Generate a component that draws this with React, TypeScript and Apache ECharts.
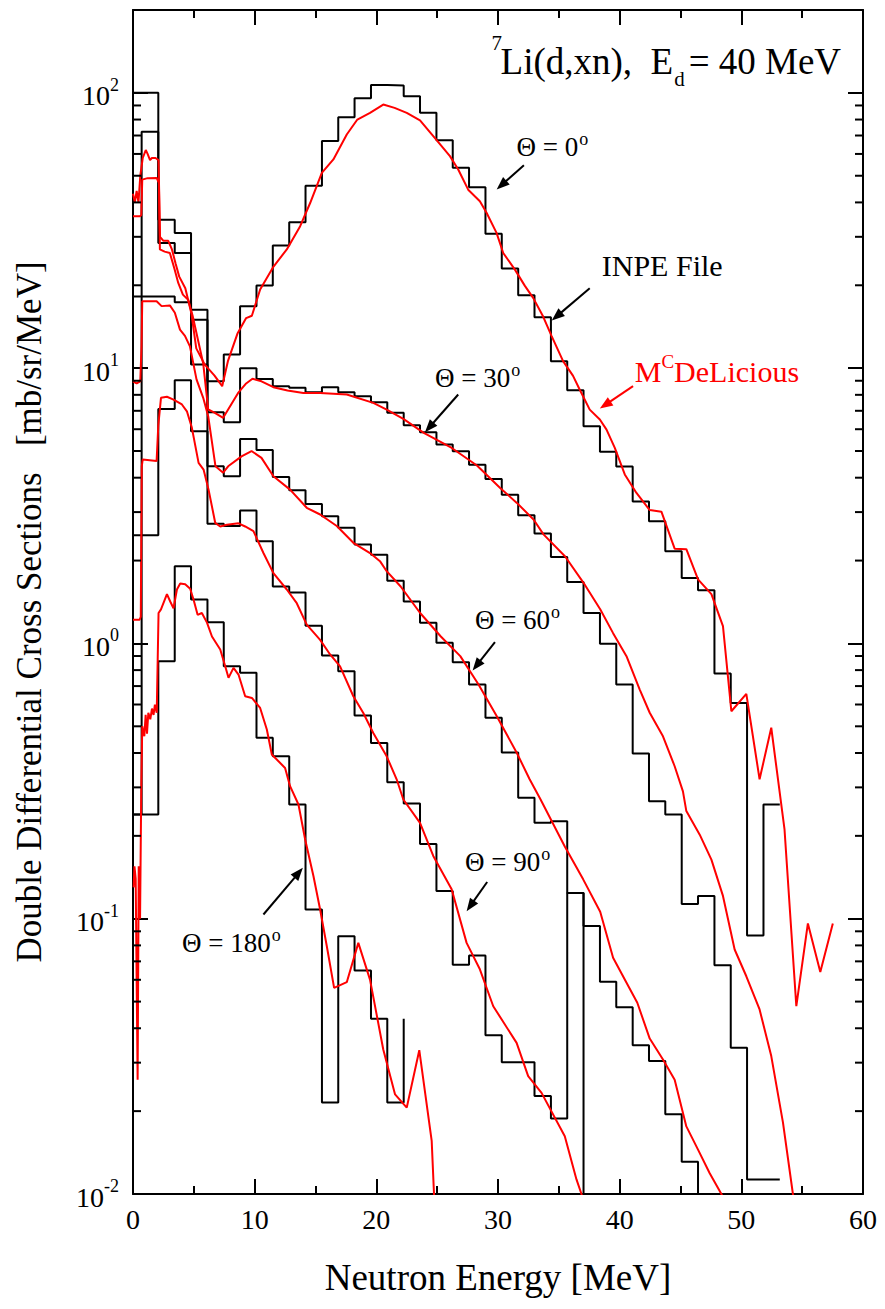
import React, { useEffect, useRef } from "react";
import * as echarts from "echarts";

const FONT = '"Liberation Serif", "Times New Roman", Times, serif';
const FLOOR = 1e-4; // stands for "empty bin" (below the axis, clipped)

// ---------------- axes ----------------
const X_MIN = 0;
const X_MAX = 60;
const X_STEP = 10;
const Y_MIN = 0.01;
const Y_MAX = 200;
const Y_MINOR = [
  0.02, 0.03, 0.04, 0.05, 0.06, 0.07, 0.08, 0.09,
  0.2, 0.3, 0.4, 0.5, 0.6, 0.7, 0.8, 0.9,
  2, 3, 4, 5, 6, 7, 8, 9,
  20, 30, 40, 50, 60, 70, 80, 90,
];
const X_TITLE = "Neutron Energy [MeV]";
const Y_TITLE = "Double Differential Cross Sections\u00a0\u00a0\u00a0[mb/sr/MeV]";

// ---------------- INPE file: histogram bin edges [MeV] ----------------
const EDGES = [
  0, 0.71, 2.08, 3.43, 4.77, 6.12, 7.46, 8.8, 10.15, 11.49, 12.84, 14.18, 15.53,
  16.87, 18.21, 19.56, 20.9, 22.25, 23.59, 24.94, 26.28, 27.62, 28.97, 30.31,
  31.66, 33.0, 34.35, 35.69, 37.03, 38.38, 39.72, 41.07, 42.41, 43.75, 45.1,
  46.44, 47.79, 49.13, 50.47, 51.82, 53.16,
];

// bin values (index = bin number, 0 = empty bin)
const INPE_0 = [
  100, 100, 34.6, 31.0, 16.3, 8.96, 11.2, 16.8, 19.95, 27.9, 33.9, 46.0, 66.9,
  81.6, 95.6, 106.9, 106.3, 97.2, 84.6, 67.3, 53.4, 45.4, 30.8, 23.0, 18.4, 15.3,
  10.6, 8.31, 6.15, 4.97, 4.39, 3.28, 2.78, 2.16, 1.73, 1.56, 0.778, 0.608,
  0.0869, 0.26,
];
const INPE_30 = [
  18.2, 72.2, 28.5, 26.2, 15.0, 6.92, 6.36, 10.0, 9.14, 8.6, 8.48, 8.18, 8.52,
  8.18, 7.9, 7.52, 6.88, 6.2, 5.85, 5.28, 4.99, 4.46, 3.96, 3.47, 2.92, 2.51,
  2.06, 1.67, 1.29, 0.997, 0.709, 0.398, 0.267, 0.239, 0.113, 0.121, 0.0678,
  0.034, 0.0113, 0.0113,
];
const INPE_60 = [
  2.47, 18.2, 18.2, 17.35, 10.3, 4.4, 4.05, 5.53, 5.04, 4.02, 3.6, 3.21, 2.9,
  2.63, 2.29, 2.1, 1.69, 1.42, 1.19, 1.005, 0.855, 0.709, 0.537, 0.402, 0.275,
  0.223, 0.226, 0.124, 0.094, 0.059, 0.0477, 0.0347, 0.0304, 0.0195, 0.0131, 0,
];
const INPE_90 = [
  0.239, 2.47, 7.11, 9.04, 5.9, 2.72, 2.67, 3.04, 2.35, 1.61, 1.53, 1.16, 0.904,
  0.793, 0.547, 0.435, 0.313, 0.262, 0.187, 0.126, 0.068, 0.0735, 0.0377,
  0.0301, 0.0301, 0.0227, 0.0188, 0.124, 0,
];
const INPE_180 = [
  0.239, 0.239, 0.862, 1.907, 1.444, 1.195, 0.827, 0.782, 0.454, 0.389, 0.26,
  0.108, 0.0215, 0.0864, 0.0649, 0.0433, 0.0215,
];
const INPE_180_TAIL = 0.0433;

// ---------------- McDeLicious: [E (MeV), value] ----------------
const MCD_0: [number, number][] = [
  [0, 43], [0.15, 40], [0.3, 44], [0.45, 40], [0.6, 50], [0.8, 58], [1.05, 62],
  [1.2, 60], [1.4, 57], [1.55, 58], [1.85, 58], [2.1, 57], [2.22, 30], [2.5, 29],
  [2.9, 29], [3.2, 27], [3.5, 24], [3.8, 21.5], [4.3, 19.5], [4.8, 15.8],
  [5.2, 11.8], [5.9, 10.3], [6.7, 9.4], [7.33, 8.6], [7.8, 10.6], [8.6, 13.4],
  [9.3, 15.2], [9.77, 15.5], [10.45, 19.3], [11.55, 23.4], [12.64, 27.0],
  [13.74, 32.8], [14.56, 39.8], [15.52, 51.2], [16.47, 57.3], [17.57, 70.6],
  [18.44, 80.0], [19.48, 84.6], [20.57, 90.7], [21.5, 88.2], [22.5, 84.6],
  [23.59, 79.5], [24.68, 69.6], [26.05, 58.9], [26.73, 52.7], [27.55, 44.5],
  [28.51, 40.4], [29.06, 36.7], [29.88, 31.0], [30.43, 26.2], [31.39, 22.8],
  [32.21, 19.9], [32.89, 18.0], [33.71, 15.4], [34.4, 13.1], [35.35, 10.6],
  [36.17, 9.37], [36.72, 8.35], [37.54, 7.07], [38.37, 6.51], [38.92, 5.98],
  [39.6, 5.13], [40.42, 4.11], [41.38, 3.52], [42.47, 3.05], [43.43, 3.01],
  [44.52, 2.21], [45.48, 2.2], [46.44, 1.71], [47.54, 1.51], [48.49, 1.155],
  [49.18, 0.567], [50.41, 0.656], [51.5, 0.321], [52.46, 0.494], [53.55, 0.211],
  [54.52, 0.0481], [55.47, 0.0961], [56.49, 0.064], [57.52, 0.0961],
];
const MCD_30: [number, number][] = [
  [0, 35.6], [0.57, 35.6], [0.68, 36], [0.76, 48.4], [1.2, 49], [1.94, 49.1],
  [2.13, 47.1], [2.21, 27.0], [2.6, 26.5], [3.03, 26.2], [3.4, 23], [3.72, 20.4],
  [4.1, 18.5], [4.54, 17.7], [4.9, 15.5], [5.22, 13.4], [5.77, 10.4], [6.18, 7.08],
  [6.73, 6.88], [7.41, 6.6], [7.82, 7.08], [8.64, 8.13], [9.3, 8.8], [9.82, 9.15],
  [10.56, 8.96], [11.54, 8.53], [12.7, 8.3], [14.0, 8.13], [15.38, 8.13],
  [17.57, 8.02], [19.75, 7.48], [20.85, 7.07], [22.22, 6.54], [23.9, 5.82],
  [26.2, 5.13], [28.27, 4.43], [30.18, 3.67], [31.55, 3.24], [32.92, 2.82],
  [33.74, 2.49], [35.52, 2.07], [37.03, 1.66], [38.4, 1.33], [39.46, 1.09],
  [40.56, 0.899], [41.65, 0.68], [42.47, 0.56], [43.56, 0.46], [44.52, 0.358],
  [45.2, 0.29], [45.48, 0.246], [46.58, 0.202], [47.54, 0.164], [48.49, 0.121],
  [49.45, 0.0773], [50.41, 0.0618], [51.5, 0.0468], [52.46, 0.0317],
  [53.42, 0.0182], [54.24, 0.01], [54.6, 0.0085],
];
const MCD_60: [number, number][] = [
  [0, 8.96], [0.3, 8.8], [0.6, 8.96], [0.7, 12], [0.76, 17.5], [1.94, 17.5],
  [2.35, 16.8], [3.03, 16.9], [3.44, 15.9], [3.86, 13.8], [4.27, 13.1], [4.68, 12.0],
  [5.22, 9.1], [5.77, 7.8], [6.18, 6.69], [6.78, 4.4], [7.41, 4.17], [7.82, 4.4],
  [8.92, 4.78], [9.74, 5.0], [10.56, 4.72], [11.54, 4.05], [12.91, 3.62],
  [14.28, 3.11], [15.38, 2.94], [16.75, 2.67], [18.11, 2.32], [19.48, 2.13],
  [20.3, 1.99], [20.85, 1.83], [22.0, 1.61], [23.6, 1.29], [25.3, 1.06],
  [26.9, 0.899], [28.4, 0.709], [29.9, 0.544], [31.55, 0.4], [32.6, 0.321],
  [33.5, 0.271], [35.49, 0.183], [37.0, 0.139], [38.4, 0.106], [39.46, 0.0721],
  [40.42, 0.0601], [41.45, 0.0495], [42.47, 0.0367], [43.56, 0.0308],
  [44.52, 0.026], [45.48, 0.0176], [46.44, 0.0145], [47.4, 0.0119], [48.36, 0.01],
  [48.6, 0.0095],
];
const MCD_90: [number, number][] = [
  [0, 1.22], [0.55, 1.22], [0.64, 1.25], [0.72, 4.4], [0.8, 4.66], [1.94, 4.6],
  [2.08, 6.2], [2.3, 7.8], [2.79, 7.87], [3.33, 7.69], [4.02, 7.38], [4.43, 6.97],
  [4.84, 6.07], [5.39, 4.53], [5.8, 4.28], [6.21, 3.62], [6.76, 2.74], [7.17, 2.66],
  [7.72, 2.7], [8.67, 2.73], [9.22, 2.66], [9.9, 2.56], [10.72, 2.13], [11.54, 1.8],
  [12.64, 1.57], [13.46, 1.4], [14.28, 1.17], [15.38, 1.03], [16.2, 0.912],
  [17.02, 0.826], [18.11, 0.643], [18.93, 0.559], [19.75, 0.473], [20.85, 0.389],
  [21.67, 0.321], [22.22, 0.271], [23.59, 0.223], [24.68, 0.169], [26.19, 0.128],
  [27.42, 0.0817], [28.51, 0.0655], [29.61, 0.0481], [31.53, 0.0354],
  [32.48, 0.0268], [33.58, 0.0233], [35.49, 0.0162], [36.45, 0.0113],
  [36.86, 0.01], [37.0, 0.0095],
];
const MCD_180: [number, number][] = [
  [0.05, 0.13], [0.12, 0.155], [0.22, 0.14], [0.38, 0.026], [0.47, 0.155],
  [0.58, 0.1], [0.68, 0.3], [0.76, 0.5], [0.93, 0.46], [1.04, 0.55], [1.15, 0.47],
  [1.26, 0.56], [1.42, 0.53], [1.56, 0.58], [1.69, 0.55], [1.8, 0.6], [1.95, 0.56],
  [2.1, 1.29], [2.3, 1.33], [2.79, 1.51], [3.06, 1.42], [3.33, 1.34], [3.61, 1.57],
  [3.88, 1.65], [4.29, 1.64], [4.7, 1.58], [4.98, 1.44], [5.31, 1.27], [5.66, 1.29],
  [6.08, 1.19], [6.49, 1.06], [7.17, 0.95], [7.58, 0.826], [7.85, 0.75],
  [8.26, 0.815], [8.67, 0.771], [9.22, 0.643], [9.77, 0.634], [10.45, 0.583],
  [11.0, 0.487], [11.41, 0.395], [12.5, 0.353], [12.91, 0.303], [13.6, 0.26],
  [14.15, 0.194], [14.83, 0.143], [15.38, 0.108], [15.93, 0.0794], [16.53, 0.0561],
  [17.57, 0.0588], [18.52, 0.0817], [19.48, 0.0601], [20.57, 0.0335],
  [21.54, 0.023], [22.5, 0.0206], [23.53, 0.0333], [24.55, 0.0156], [24.74, 0.01],
  [24.9, 0.0085],
];

// ---------------- annotations (data coordinates) ----------------
const THETA_LABELS: { angle: string; at: [number, number] }[] = [
  { angle: "0", at: [31.53, 58.9] },
  { angle: "30", at: [24.82, 8.52] },
  { angle: "60", at: [28.1, 1.128] },
  { angle: "90", at: [27.28, 0.149] },
  { angle: "180", at: [4.02, 0.0755] },
];
const ARROWS: { from: [number, number]; to: [number, number]; color: string }[] = [
  { from: [32.13, 54.6], to: [29.89, 44.6], color: "#000" },
  { from: [37.54, 19.5], to: [34.42, 14.9], color: "#000" },
  { from: [41.1, 8.6], to: [38.37, 7.13], color: "#ff0000" },
  { from: [26.73, 8.02], to: [24.0, 5.85], color: "#000" },
  { from: [29.75, 1.01], to: [27.91, 0.797], color: "#000" },
  { from: [29.11, 0.136], to: [27.42, 0.1065], color: "#000" },
  { from: [10.72, 0.1036], to: [13.96, 0.153], color: "#000" },
];
const INPE_LABEL_AT: [number, number] = [38.53, 21.6];
const MCD_LABEL_AT: [number, number] = [41.24, 8.96];
const TITLE_AT: [number, number] = [30.21, 117.5];

function histogram(values: number[], tail?: number): [number, number][] {
  const pts: [number, number][] = [];
  let lastEdge = 0;
  values.forEach((v, k) => {
    const y = v > 0 ? v : FLOOR;
    pts.push([EDGES[k], y], [EDGES[k + 1], y]);
    lastEdge = EDGES[k + 1];
  });
  if (tail !== undefined) pts.push([lastEdge, tail]);
  return pts;
}

const black = "#000";
const red = "#ff0000";

export default function App() {
  const ref = useRef<HTMLDivElement>(null);

  useEffect(() => {
    document.body.style.margin = "0";
    document.body.style.overflow = "hidden";
    const chart = echarts.init(ref.current!, null, { renderer: "svg" });

    const axisLine = { show: true, onZero: false, lineStyle: { color: black, width: 2 } };
    const majorTick = { show: true, inside: true, length: 15, lineStyle: { color: black, width: 2 } };
    const minorTickX = { show: true, splitNumber: 2, length: 8, lineStyle: { color: black, width: 2 } };

    const hist = (name: string, vals: number[], tail?: number) => ({
      name,
      type: "line",
      data: histogram(vals, tail),
      symbol: "none",
      showSymbol: false,
      lineStyle: { color: black, width: 2 },
      z: 2,
      silent: true,
      clip: true,
    });
    const mcd = (name: string, pts: [number, number][]) => ({
      name,
      type: "line",
      data: pts,
      symbol: "none",
      showSymbol: false,
      lineStyle: { color: red, width: 2 },
      z: 3,
      silent: true,
      clip: true,
    });

    const option: any = {
      animation: false,
      grid: { left: 133, right: 22, top: 10, bottom: 115 },
      xAxis: [
        {
          type: "value",
          min: X_MIN,
          max: X_MAX,
          interval: X_STEP,
          position: "bottom",
          axisLine,
          axisTick: majorTick,
          minorTick: minorTickX,
          splitLine: { show: false },
          axisLabel: { fontSize: 28, fontFamily: FONT, color: black, margin: 11 },
          name: X_TITLE,
          nameLocation: "middle",
          nameGap: 65,
          nameTextStyle: { fontSize: 37, fontFamily: FONT, color: black },
        },
        {
          type: "value",
          min: X_MIN,
          max: X_MAX,
          interval: X_STEP,
          position: "top",
          axisLine,
          axisTick: majorTick,
          minorTick: minorTickX,
          splitLine: { show: false },
          axisLabel: { show: false },
        },
      ],
      yAxis: [
        {
          type: "log",
          logBase: 10,
          min: Y_MIN,
          max: Y_MAX,
          position: "left",
          axisLine,
          axisTick: majorTick,
          splitLine: { show: false },
          axisLabel: {
            margin: 14,
            formatter: (v: number) => {
              const l = Math.log10(v);
              const e = Math.round(l);
              if (Math.abs(l - e) > 1e-6) return "";
              return `{b|10}{e|${e}}`;
            },
            rich: {
              b: { fontSize: 28, fontFamily: FONT, color: black, lineHeight: 34, verticalAlign: "bottom" },
              e: { fontSize: 18, fontFamily: FONT, color: black, lineHeight: 18, verticalAlign: "top" },
            },
          },
        },
        {
          type: "log",
          logBase: 10,
          min: Y_MIN,
          max: Y_MAX,
          position: "right",
          axisLine,
          axisTick: majorTick,
          splitLine: { show: false },
          axisLabel: { show: false },
        },
      ],
      series: [
        hist("INPE 0", INPE_0),
        hist("INPE 30", INPE_30),
        hist("INPE 60", INPE_60),
        hist("INPE 90", INPE_90),
        hist("INPE 180", INPE_180, INPE_180_TAIL),
        mcd("McDeLicious 0", MCD_0),
        mcd("McDeLicious 30", MCD_30),
        mcd("McDeLicious 60", MCD_60),
        mcd("McDeLicious 90", MCD_90),
        mcd("McDeLicious 180", MCD_180),
        {
          name: "minor ticks",
          type: "custom",
          silent: true,
          z: 4,
          clip: false,
          data: Y_MINOR.map((v) => [X_MIN, v]),
          encode: { x: 0, y: 1 },
          renderItem: (params: any, api: any) => {
            const p = api.coord([X_MIN, api.value(1)]);
            const cs = params.coordSys;
            const st = { stroke: black, lineWidth: 2 };
            return {
              type: "group",
              children: [
                { type: "line", shape: { x1: cs.x, y1: p[1], x2: cs.x + 8, y2: p[1] }, style: st },
                { type: "line", shape: { x1: cs.x + cs.width - 8, y1: p[1], x2: cs.x + cs.width, y2: p[1] }, style: st },
              ],
            };
          },
        },
      ],
    };
    chart.setOption(option);

    // ----- annotations -----
    const ctx = document.createElement("canvas").getContext("2d")!;
    const tw = (s: string, size: number) => {
      ctx.font = `${size}px "Liberation Serif"`;
      return ctx.measureText(s).width;
    };
    const px = (d: [number, number]) => chart.convertToPixel({ gridIndex: 0 }, d) as number[];
    const T = (x: number, baseline: number, text: string, size: number, color = black) => ({
      type: "text",
      x,
      y: baseline - 0.3375 * size,
      silent: true,
      z: 10,
      style: {
        text,
        fontSize: size,
        fontFamily: FONT,
        fill: color,
        align: "left",
        verticalAlign: "middle",
      },
    });
    const arrow = (from: number[], to: number[], color: string) => {
      const dx = to[0] - from[0];
      const dy = to[1] - from[1];
      const L = Math.hypot(dx, dy);
      const ux = dx / L;
      const uy = dy / L;
      const nx = -uy;
      const ny = ux;
      const hl = 13;
      const hw = 5;
      const bx = to[0] - ux * hl;
      const by = to[1] - uy * hl;
      return [
        { type: "line", silent: true, z: 10, shape: { x1: from[0], y1: from[1], x2: bx + ux * 2, y2: by + uy * 2 }, style: { stroke: color, lineWidth: 2 } },
        { type: "polygon", silent: true, z: 10, shape: { points: [[to[0], to[1]], [bx + nx * hw, by + ny * hw], [bx - nx * hw, by - ny * hw]] }, style: { fill: color } },
      ];
    };

    const graphic: any[] = [];
    // y-axis title (rotated)
    graphic.push({
      type: "text",
      x: 29,
      y: 612,
      rotation: Math.PI / 2,
      silent: true,
      style: {
        text: Y_TITLE,
        fontSize: 35,
        fontFamily: FONT,
        fill: black,
        align: "center",
        verticalAlign: "middle",
      },
    });
    // title
    {
      const [x, b] = px(TITLE_AT);
      graphic.push(T(x - 9, b - 24, "7", 21));
      const s1 = "Li(d,xn),\u00a0\u00a0E";
      graphic.push(T(x, b, s1, 37));
      const xd = x + tw(s1, 37) + 1;
      graphic.push(T(xd, b + 12, "d", 21));
      graphic.push(T(xd + tw("d", 21) + 4, b, "= 40 MeV", 37));
    }
    // theta labels
    THETA_LABELS.forEach(({ angle, at }) => {
      const [x, b] = px(at);
      const s = `\u0398 = ${angle}`;
      graphic.push(T(x, b, s, 27));
      graphic.push(T(x + tw(s, 27) + 1, b - 11, "o", 18));
    });
    // INPE File
    {
      const [x, b] = px(INPE_LABEL_AT);
      graphic.push(T(x, b, "INPE File", 30));
    }
    // McDeLicious
    {
      const [x, b] = px(MCD_LABEL_AT);
      graphic.push(T(x, b, "M", 30, red));
      const xc = x + tw("M", 30);
      graphic.push(T(xc, b - 13, "C", 19, red));
      graphic.push(T(xc + tw("C", 19), b, "DeLicious", 30, red));
    }
    ARROWS.forEach((a) => graphic.push(...arrow(px(a.from), px(a.to), a.color)));

    chart.setOption({ graphic });

    return () => chart.dispose();
  }, []);

  return <div ref={ref} style={{ width: 885, height: 1309 }} />;
}
